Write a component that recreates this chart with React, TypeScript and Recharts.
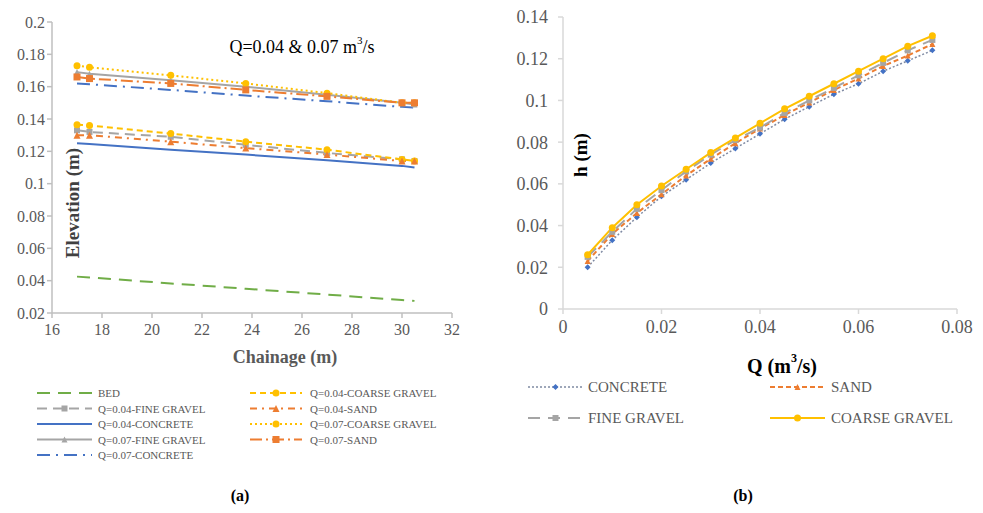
import React from "react";
import { LineChart, Line, XAxis, YAxis } from "recharts";

// (a) water surface elevation along the channel
const chainage = [17, 17.5, 20.75, 23.75, 27, 30, 30.5];
const bed = [0.0425, 0.042, 0.0383, 0.035, 0.0314, 0.028, 0.0275];
const q04Fine = [0.133, 0.132, 0.129, 0.124, 0.119, 0.115, 0.114];
const q04Concrete = [0.125, 0.1245, 0.121, 0.118, 0.1145, 0.111, 0.11];
const q07Fine = [0.169, 0.168, 0.164, 0.16, 0.155, 0.15, 0.149];
const q07Concrete = [0.162, 0.1615, 0.158, 0.1545, 0.151, 0.1475, 0.147];
const q04Coarse = [0.1365, 0.136, 0.131, 0.126, 0.121, 0.115, 0.114];
const q04Sand = [0.13, 0.13, 0.126, 0.122, 0.118, 0.114, 0.114];
const q07Coarse = [0.173, 0.172, 0.167, 0.162, 0.156, 0.15, 0.15];
const q07Sand = [0.166, 0.165, 0.162, 0.158, 0.154, 0.15, 0.15];
const elevTicks = [0.02, 0.04, 0.06, 0.08, 0.1, 0.12, 0.14, 0.16, 0.18, 0.2];
const chainTicks = [16, 18, 20, 22, 24, 26, 28, 30, 32];

// (b) depth vs discharge
const discharge = [0.005, 0.01, 0.015, 0.02, 0.025, 0.03, 0.035, 0.04, 0.045, 0.05, 0.055, 0.06, 0.065, 0.07, 0.075];
const hConcrete = [0.02, 0.033, 0.044, 0.054, 0.062, 0.07, 0.077, 0.084, 0.091, 0.097, 0.103, 0.108, 0.114, 0.119, 0.124];
const hSand = [0.023, 0.036, 0.046, 0.055, 0.064, 0.072, 0.0795, 0.0865, 0.093, 0.099, 0.105, 0.1105, 0.1165, 0.1215, 0.127];
const hFine = [0.025, 0.037, 0.048, 0.057, 0.066, 0.074, 0.081, 0.087, 0.094, 0.1, 0.106, 0.112, 0.118, 0.124, 0.129];
const hCoarse = [0.026, 0.039, 0.05, 0.059, 0.067, 0.075, 0.082, 0.089, 0.096, 0.102, 0.108, 0.114, 0.12, 0.126, 0.131];
const hTicks = [0, 0.02, 0.04, 0.06, 0.08, 0.1, 0.12, 0.14];
const qTicks = [0, 0.02, 0.04, 0.06, 0.08];

const FONT = "'Liberation Serif', 'Times New Roman', serif";
const GREY = "#595959";

type Shape = "none" | "circle" | "square" | "triangle" | "diamond";
interface SeriesStyle {
  key: string;
  name: string;
  color: string;
  dash?: string;
  width: number;
  shape: Shape;
  size: number;
}

const leftSeries: SeriesStyle[] = [
  { key: "bed", name: "BED", color: "#70ad47", dash: "13 8", width: 2, shape: "none", size: 0 },
  { key: "q04Fine", name: "Q=0.04-FINE GRAVEL", color: "#a5a5a5", dash: "10 6", width: 2, shape: "square", size: 6 },
  { key: "q04Concrete", name: "Q=0.04-CONCRETE", color: "#4472c4", width: 2, shape: "none", size: 0 },
  { key: "q07Fine", name: "Q=0.07-FINE GRAVEL", color: "#a5a5a5", width: 2, shape: "triangle", size: 6 },
  { key: "q07Concrete", name: "Q=0.07-CONCRETE", color: "#4472c4", dash: "13 6 2 6", width: 2, shape: "none", size: 0 },
  { key: "q04Coarse", name: "Q=0.04-COARSE GRAVEL", color: "#ffc000", dash: "6 4", width: 2, shape: "circle", size: 7 },
  { key: "q04Sand", name: "Q=0.04-SAND", color: "#ed7d31", dash: "7 5 2 5", width: 2, shape: "triangle", size: 7 },
  { key: "q07Coarse", name: "Q=0.07-COARSE GRAVEL", color: "#ffc000", dash: "2 3", width: 2, shape: "circle", size: 7 },
  { key: "q07Sand", name: "Q=0.07-SAND", color: "#ed7d31", dash: "12 4 2 4", width: 2, shape: "square", size: 7 },
];

const rightSeries: SeriesStyle[] = [
  { key: "concrete", name: "CONCRETE", color: "#7f8aa3", dash: "2 2", width: 1.5, shape: "diamond", size: 6 },
  { key: "sand", name: "SAND", color: "#ed7d31", dash: "5 3", width: 2, shape: "triangle", size: 6 },
  { key: "fine", name: "FINE GRAVEL", color: "#a5a5a5", dash: "12 8", width: 2, shape: "square", size: 6 },
  { key: "coarse", name: "COARSE GRAVEL", color: "#ffc000", width: 2, shape: "circle", size: 7 },
];
const rightMarker: Record<string, string> = { concrete: "#4472c4" };

const leftRows = chainage.map((x, i) => ({
  x,
  bed: bed[i],
  q04Fine: q04Fine[i],
  q04Concrete: q04Concrete[i],
  q07Fine: q07Fine[i],
  q07Concrete: q07Concrete[i],
  q04Coarse: q04Coarse[i],
  q04Sand: q04Sand[i],
  q07Coarse: q07Coarse[i],
  q07Sand: q07Sand[i],
}));

const rightRows = discharge.map((x, i) => ({
  x,
  concrete: hConcrete[i],
  sand: hSand[i],
  fine: hFine[i],
  coarse: hCoarse[i],
}));

function Marker({ cx, cy, shape, color, size }: { cx?: number; cy?: number; shape: Shape; color: string; size: number }) {
  if (cx == null || cy == null || shape === "none") return null;
  const h = size / 2;
  if (shape === "circle") return <circle cx={cx} cy={cy} r={h} fill={color} />;
  if (shape === "square") return <rect x={cx - h} y={cy - h} width={size} height={size} fill={color} />;
  if (shape === "triangle")
    return <polygon points={`${cx},${cy - h} ${cx + h},${cy + h} ${cx - h},${cy + h}`} fill={color} />;
  return <polygon points={`${cx},${cy - h} ${cx + h},${cy} ${cx},${cy + h} ${cx - h},${cy}`} fill={color} />;
}

const fmt = (v: number) => String(+v.toFixed(2));

function renderLines(series: SeriesStyle[], markerColors: Record<string, string> = {}) {
  return series.map((s) => (
    <Line
      key={s.key}
      type="linear"
      dataKey={s.key}
      name={s.name}
      stroke={s.color}
      strokeWidth={s.width}
      strokeDasharray={s.dash}
      isAnimationActive={false}
      activeDot={false}
      dot={(p: any) => (
        <Marker key={`${s.key}-${p.index}`} cx={p.cx} cy={p.cy} shape={s.shape}
          color={markerColors[s.key] ?? s.color} size={s.size} />
      )}
    />
  ));
}

function LegendItem({ s, x, y, len, textX, fontSize, markerColor }: {
  s: SeriesStyle; x: number; y: number; len: number; textX: number; fontSize: number; markerColor?: string;
}) {
  return (
    <g>
      <line x1={x} y1={y} x2={x + len} y2={y} stroke={s.color} strokeWidth={s.width} strokeDasharray={s.dash} />
      <Marker cx={x + len / 2} cy={y} shape={s.shape} color={markerColor ?? s.color} size={s.size} />
      <text x={textX} y={y} dominantBaseline="central" fontSize={fontSize} fill={GREY} fontFamily={FONT}>
        {s.name}
      </text>
    </g>
  );
}

export default function App() {
  const tickStyle = { fontSize: 16, fill: GREY, fontFamily: FONT };
  return (
    <div style={{ position: "absolute", left: 0, top: 0, width: 983, height: 513, background: "#fff", overflow: "hidden" }}>
      <div style={{ position: "absolute", left: 0, top: 0 }}>
        <LineChart width={470} height={343} data={leftRows} margin={{ top: 22, right: 18, left: 0, bottom: 0 }}>
          <XAxis dataKey="x" type="number" domain={[16, 32]} ticks={chainTicks} height={30} tickMargin={6}
            stroke="#bfbfbf" strokeWidth={1.5} tickSize={5} tick={tickStyle} tickLine={{ stroke: "#bfbfbf" }} />
          <YAxis type="number" domain={[0.02, 0.2]} ticks={elevTicks} width={52} tickFormatter={fmt}
            stroke="#bfbfbf" strokeWidth={1.5} tickSize={5} tick={tickStyle} tickLine={{ stroke: "#bfbfbf" }} />
          {renderLines(leftSeries)}
        </LineChart>
      </div>
      <div style={{ position: "absolute", left: 500, top: 0 }}>
        <LineChart width={483} height={339} data={rightRows} margin={{ top: 17, right: 26, left: 0, bottom: 0 }}>
          <XAxis dataKey="x" type="number" domain={[0, 0.08]} ticks={qTicks} height={30} tickFormatter={fmt} tickMargin={6}
            stroke="#d9d9d9" strokeWidth={1.5} tickSize={5} tick={{ ...tickStyle, fontSize: 18 }} tickLine={{ stroke: "#d9d9d9" }} />
          <YAxis type="number" domain={[0, 0.14]} ticks={hTicks} width={63} tickFormatter={fmt} tickMargin={10}
            stroke="#d9d9d9" strokeWidth={1.5} tickSize={5} tick={{ ...tickStyle, fontSize: 18 }} tickLine={{ stroke: "#d9d9d9" }} />
          {renderLines(rightSeries, rightMarker)}
        </LineChart>
      </div>
      <svg width={983} height={513} style={{ position: "absolute", left: 0, top: 0, pointerEvents: "none" }}>
        <text x={302} y={47} textAnchor="middle" dominantBaseline="central" fontSize={18} fontFamily={FONT} fill="#000">
          Q=0.04 &amp; 0.07 m<tspan fontSize={11} dy={-7}>3</tspan><tspan dy={7}>/s</tspan>
        </text>
        <text x={285} y={357} textAnchor="middle" dominantBaseline="central" fontSize={18} fontWeight="bold" fontFamily={FONT} fill={GREY}>
          Chainage (m)
        </text>
        <text transform="translate(72,203) rotate(-90)" textAnchor="middle" dominantBaseline="central" fontSize={19}
          fontWeight="bold" fontFamily={FONT} fill="#404040">
          Elevation (m)
        </text>
        <text transform="translate(580,155) rotate(-90)" textAnchor="middle" dominantBaseline="central" fontSize={19}
          fontWeight="bold" fontFamily={FONT} fill="#000">
          h (m)
        </text>
        <text x={782} y={366} textAnchor="middle" dominantBaseline="central" fontSize={20} fontWeight="bold" fontFamily={FONT} fill="#000">
          Q (m<tspan fontSize={12} dy={-8}>3</tspan><tspan dy={8}>/s)</tspan>
        </text>
        {leftSeries.slice(0, 5).map((s, i) => (
          <LegendItem key={s.key} s={s} x={37} y={393 + i * 15.5} len={55} textX={98} fontSize={11} />
        ))}
        {leftSeries.slice(5).map((s, i) => (
          <LegendItem key={s.key} s={s} x={250} y={393 + i * 15.5} len={52} textX={310} fontSize={11} />
        ))}
        {rightSeries.map((s, i) => (
          <LegendItem key={s.key} s={s} x={i % 2 === 0 ? 528 : 770} y={387 + Math.floor(i / 2) * 31} len={55}
            textX={i % 2 === 0 ? 588 : 831} fontSize={15} markerColor={rightMarker[s.key]} />
        ))}
        <text x={240} y={495} textAnchor="middle" dominantBaseline="central" fontSize={16} fontWeight="bold" fontFamily={FONT} fill="#000">
          (a)
        </text>
        <text x={743} y={495} textAnchor="middle" dominantBaseline="central" fontSize={16} fontWeight="bold" fontFamily={FONT} fill="#000">
          (b)
        </text>
      </svg>
    </div>
  );
}
